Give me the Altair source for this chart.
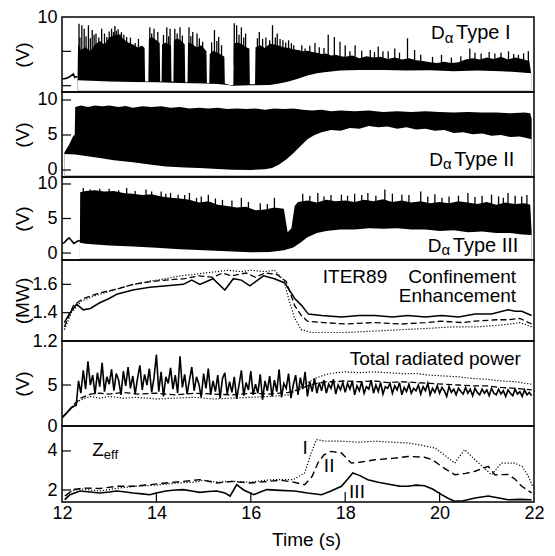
import altair as alt
import pandas as pd
import numpy as np

FONT = "Liberation Sans"
W = 472
XDOM = [12, 22]

# ---------------- Panel 1: D-alpha Type I ----------------
D1_PRE = [(12.0, 1.0), (12.05, 1.0), (12.1, 1.1), (12.15, 1.25), (12.2, 1.5), (12.24, 1.7),
          (12.27, 1.2), (12.3, 1.3), (12.33, 1.3)]
D1_HI = [(12.33, 1.3), (12.34, 6.0), (12.40, 5.2), (12.50, 5.6), (12.60, 5.0), (12.70, 6.0),
         (12.80, 6.5), (12.90, 6.0), (13.00, 7.0), (13.10, 7.3), (13.20, 7.5), (13.30, 6.8),
         (13.40, 6.3), (13.50, 6.0), (13.60, 5.6), (13.70, 5.8), (13.75, 5.5), (13.76, 0.6),
         (13.83, 0.6), (13.84, 6.8), (13.90, 7.1), (14.00, 6.6), (14.07, 6.2), (14.08, 0.6),
         (14.11, 0.6), (14.12, 6.0), (14.20, 6.3), (14.31, 5.8), (14.32, 0.6), (14.36, 0.6),
         (14.37, 6.6), (14.45, 6.9), (14.55, 6.4), (14.60, 6.0), (14.61, 0.5), (14.66, 0.5),
         (14.67, 6.3), (14.75, 6.1), (14.85, 5.6), (14.95, 5.9), (15.06, 5.0), (15.07, 0.4),
         (15.12, 0.4), (15.13, 4.6), (15.20, 5.1), (15.30, 4.8), (15.40, 4.4), (15.44, 4.2),
         (15.45, 0.3), (15.55, 0.1), (15.63, 0.1), (15.64, 6.1), (15.70, 6.3), (15.80, 6.1),
         (15.90, 5.6), (15.97, 5.4), (15.98, 0.2), (16.09, 0.2), (16.10, 5.6), (16.20, 5.9),
         (16.30, 5.5), (16.40, 6.1), (16.50, 6.0), (16.60, 5.8), (16.70, 5.6), (16.80, 5.5),
         (16.90, 5.3), (17.00, 5.2), (17.10, 5.0), (17.20, 5.1), (17.30, 4.9), (17.40, 4.8),
         (17.50, 4.6), (17.60, 4.7), (17.70, 4.4), (17.80, 4.5), (17.90, 4.3), (18.00, 4.2),
         (18.15, 4.4), (18.30, 4.0), (18.45, 4.3), (18.60, 4.1), (18.75, 4.2), (18.90, 3.9),
         (19.05, 4.1), (19.20, 3.8), (19.35, 4.0), (19.50, 3.7), (19.65, 3.6), (19.80, 3.4),
         (19.95, 3.3), (20.10, 3.5), (20.25, 3.3), (20.40, 3.4), (20.55, 3.8), (20.70, 4.0),
         (20.85, 3.8), (21.00, 4.1), (21.15, 3.9), (21.30, 4.2), (21.45, 3.8), (21.60, 4.1),
         (21.75, 3.9), (21.90, 3.6), (21.94, 1.8)]
D1_LO = [(12.33, 0.8), (12.6, 0.7), (13.0, 0.6), (13.5, 0.55), (14.0, 0.5), (14.5, 0.4),
         (15.0, 0.3), (15.3, 0.25), (15.5, 0.1), (15.62, 0.0), (16.0, 0.05), (16.4, 0.1),
         (16.6, 0.3), (16.8, 0.6), (17.0, 1.0), (17.2, 1.5), (17.4, 1.8), (17.6, 2.0),
         (17.9, 2.2), (18.3, 2.3), (18.8, 2.3), (19.3, 2.2), (19.8, 2.25), (20.3, 2.1),
         (20.8, 2.2), (21.3, 2.1), (21.6, 2.0), (21.94, 1.8)]
D1_SPIKES = [(12.36, 9.0), (12.42, 8.8), (12.47, 8.3), (12.56, 8.8), (12.64, 8.1), (12.72, 7.6),
             (12.84, 8.3), (12.95, 7.1), (13.05, 8.3), (13.12, 8.7), (13.19, 8.2), (13.26, 7.8),
             (13.37, 7.1), (13.55, 6.2), (13.86, 8.5), (13.95, 8.3), (14.03, 7.8), (14.22, 8.5),
             (14.29, 8.3), (14.39, 8.3), (14.50, 8.5), (14.69, 8.5), (14.77, 7.8), (14.86, 7.6),
             (14.98, 6.4), (15.23, 8.1), (15.32, 7.1), (15.65, 9.1), (15.70, 8.8), (15.80, 8.5),
             (15.89, 7.6), (16.18, 7.8), (16.25, 6.8), (16.46, 8.8), (16.56, 7.6), (16.68, 6.6),
             (16.80, 6.6), (16.91, 5.9), (17.01, 5.2), (17.15, 5.4), (17.36, 6.2), (17.64, 7.4),
             (17.77, 7.1), (17.89, 6.4), (18.00, 5.9), (18.21, 5.9), (18.53, 5.2), (18.70, 5.7),
             (18.91, 5.0), (19.05, 5.4), (19.32, 6.9), (19.47, 5.2), (20.04, 4.5), (20.64, 5.4),
             (20.88, 4.7), (21.17, 4.7), (21.46, 5.0), (21.67, 4.5), (21.88, 5.0),
             (12.38, 7.0), (12.51, 7.2), (12.60, 6.9), (12.68, 7.4), (12.78, 7.0), (12.90, 7.6),
             (13.00, 7.9), (13.09, 7.8), (13.15, 8.0), (13.23, 7.5), (13.31, 7.4), (13.45, 7.0),
             (13.62, 6.8), (13.90, 7.6), (14.15, 7.4), (14.26, 7.2), (14.44, 7.6), (14.55, 7.3),
             (14.73, 7.2), (14.91, 6.9), (15.17, 6.3), (15.28, 6.5), (15.38, 5.9), (15.75, 7.4),
             (15.85, 7.0), (16.14, 6.9), (16.32, 7.0), (16.40, 6.6), (16.52, 7.0), (16.62, 6.8),
             (16.74, 6.3), (16.86, 6.2), (17.08, 5.9), (17.25, 5.8), (17.45, 5.6), (17.55, 5.5),
             (18.10, 5.0), (18.35, 5.1), (18.62, 4.9), (18.80, 5.0), (19.15, 4.8), (19.60, 4.5),
             (19.85, 4.2), (20.25, 4.1), (20.45, 4.3), (20.75, 4.8), (21.05, 4.9), (21.30, 4.8),
             (21.57, 4.6), (21.78, 4.7)]

# ---------------- Panel 2: D-alpha Type II ----------------
D2_HI = [(12.05, 2.5), (12.15, 3.6), (12.24, 4.9), (12.27, 5.0), (12.28, 9.0), (12.4, 9.2),
         (12.55, 9.0), (12.7, 9.2), (12.85, 9.1), (13.0, 9.2), (13.2, 9.0), (13.35, 9.15),
         (13.5, 8.9), (13.7, 9.1), (13.9, 9.0), (14.1, 9.1), (14.3, 8.9), (14.5, 9.0),
         (14.7, 8.8), (14.9, 8.9), (15.1, 8.8), (15.3, 8.9), (15.5, 8.7), (15.7, 8.8),
         (15.9, 8.7), (16.1, 8.8), (16.3, 8.6), (16.5, 8.8), (16.7, 8.7), (16.9, 8.8),
         (17.1, 8.6), (17.3, 8.5), (17.5, 8.6), (17.7, 8.4), (17.9, 8.5), (18.2, 8.4),
         (18.5, 8.5), (18.8, 8.3), (19.1, 8.4), (19.4, 8.3), (19.7, 8.4), (20.0, 8.3),
         (20.3, 8.2), (20.6, 8.3), (20.9, 8.2), (21.2, 8.2), (21.5, 8.1), (21.8, 8.2),
         (21.92, 8.1), (21.95, 7.3)]
D2_LO = [(12.05, 2.3), (12.28, 2.2), (12.5, 2.0), (12.8, 1.7), (13.1, 1.4), (13.5, 1.1),
         (13.9, 0.75), (14.2, 0.5), (14.6, 0.35), (14.9, 0.3), (15.3, 0.15), (15.6, 0.05),
         (16.0, 0.0), (16.3, 0.1), (16.45, 0.3), (16.6, 0.8), (16.75, 1.5), (16.9, 2.4),
         (17.05, 3.4), (17.2, 4.4), (17.35, 5.0), (17.5, 5.4), (17.7, 5.7), (17.9, 5.6),
         (18.1, 6.0), (18.3, 5.9), (18.5, 6.3), (18.7, 6.1), (18.9, 6.2), (19.1, 5.9),
         (19.3, 6.1), (19.5, 5.8), (19.7, 5.9), (19.9, 5.6), (20.1, 5.7), (20.3, 5.3),
         (20.5, 5.4), (20.7, 5.1), (20.9, 5.2), (21.1, 4.9), (21.3, 5.0), (21.5, 4.7),
         (21.7, 4.8), (21.95, 4.4)]

# ---------------- Panel 3: D-alpha Type III ----------------
D3_PRE = [(12.0, 1.4), (12.05, 1.5), (12.1, 1.9), (12.15, 2.2), (12.2, 1.8), (12.25, 1.4),
          (12.3, 1.6), (12.35, 1.8), (12.38, 1.7)]
D3_HI = [(12.38, 1.7), (12.385, 8.8), (12.5, 9.0), (12.7, 9.1), (12.9, 8.9), (13.1, 9.0),
         (13.3, 8.7), (13.5, 8.6), (13.7, 8.4), (13.9, 8.5), (14.1, 8.2), (14.3, 8.0),
         (14.5, 7.9), (14.7, 7.7), (14.9, 7.3), (15.1, 7.5), (15.3, 7.0), (15.5, 6.8),
         (15.7, 6.6), (15.9, 6.7), (16.1, 6.2), (16.3, 6.3), (16.5, 6.6), (16.7, 6.4),
         (16.78, 3.0), (16.86, 3.6), (16.93, 6.8), (17.0, 7.4), (17.2, 7.6), (17.4, 7.3),
         (17.6, 7.7), (17.8, 7.5), (18.0, 7.6), (18.2, 7.4), (18.4, 7.7), (18.6, 7.5),
         (18.8, 7.8), (19.0, 7.4), (19.2, 7.6), (19.4, 7.3), (19.6, 7.5), (19.8, 7.2),
         (20.0, 7.4), (20.2, 7.2), (20.4, 7.5), (20.6, 7.3), (20.8, 7.1), (21.0, 7.4),
         (21.2, 7.0), (21.4, 7.3), (21.6, 7.1), (21.8, 7.2), (21.92, 7.0), (21.95, 3.0)]
D3_LO = [(12.38, 1.5), (12.5, 1.35), (13.0, 1.1), (13.5, 0.95), (14.0, 0.75), (14.5, 0.55),
         (15.0, 0.4), (15.5, 0.25), (16.0, 0.1), (16.4, 0.15), (16.7, 0.4), (16.9, 0.8),
         (17.05, 1.5), (17.2, 2.3), (17.4, 2.9), (17.6, 3.2), (17.9, 3.4), (18.2, 3.4),
         (18.5, 3.6), (18.8, 3.5), (19.1, 3.6), (19.4, 3.4), (19.7, 3.4), (20.0, 3.2),
         (20.3, 3.3), (20.6, 3.0), (20.9, 3.1), (21.2, 2.9), (21.5, 2.9), (21.75, 2.7),
         (21.95, 2.6)]
D3_SPIKES = [(12.45, 9.4), (12.8, 9.3), (13.37, 9.4), (13.55, 9.0), (13.78, 9.2), (14.1, 8.9),
             (14.3, 8.7), (14.46, 8.45), (14.7, 8.7), (14.95, 8.2), (15.1, 8.45), (15.4, 7.7),
             (15.6, 7.6), (15.8, 8.0), (16.2, 7.2), (16.5, 8.0), (17.1, 8.6), (17.42, 8.7),
             (17.7, 8.4), (17.92, 8.45), (18.2, 8.6), (18.48, 8.7), (18.84, 9.2), (19.0, 8.6),
             (19.2, 8.45), (19.6, 8.9), (19.9, 8.5), (20.2, 8.2), (20.6, 8.7), (20.9, 8.3),
             (21.1, 8.45), (21.45, 8.7), (21.6, 8.3), (21.74, 8.2), (21.85, 8.4),
             (12.6, 9.2), (13.0, 9.3), (13.2, 9.1), (13.9, 8.9), (14.2, 8.6), (14.6, 8.4),
             (14.85, 8.0), (15.25, 7.9), (15.95, 7.4), (16.35, 7.1), (17.25, 8.3), (17.55, 8.2),
             (18.05, 8.3), (18.35, 8.4), (18.65, 8.3), (19.35, 8.4), (19.75, 8.2), (20.05, 8.0),
             (20.4, 8.3), (20.75, 8.1), (21.25, 8.2), (21.35, 8.0)]

# ---------------- Panel 4: ITER89 confinement enhancement ----------------
IT_SOLID_T = [12.05, 12.17, 12.31, 12.45, 12.6, 12.8, 13.0, 13.16, 13.5, 13.86, 14.22, 14.57,
              14.75, 14.92, 15.2, 15.45, 15.63, 15.8, 15.98, 16.27, 16.5, 16.72, 16.93, 17.08,
              17.22, 17.5, 17.92, 18.3, 18.63, 19.0, 19.33, 19.7, 20.04, 20.4, 20.75, 21.1,
              21.45, 21.6, 21.74, 21.95]
IT_SOLID_V = [1.33, 1.40, 1.46, 1.42, 1.43, 1.47, 1.50, 1.53, 1.56, 1.58, 1.59, 1.60,
              1.63, 1.60, 1.64, 1.56, 1.64, 1.63, 1.59, 1.66, 1.64, 1.61, 1.50, 1.45,
              1.39, 1.38, 1.37, 1.38, 1.38, 1.37, 1.38, 1.37, 1.38, 1.37, 1.39, 1.39,
              1.42, 1.41, 1.41, 1.38]
IT_DASH_T = [12.05, 12.24, 12.45, 12.8, 13.2, 13.5, 13.9, 14.2, 14.6, 14.9, 15.2, 15.4, 15.6,
             15.9, 16.1, 16.3, 16.55, 16.75, 16.93, 17.07, 17.2, 17.55, 18.0, 18.6, 19.2, 19.7,
             20.04, 20.5, 20.75, 21.2, 21.45, 21.7, 21.95]
IT_DASH_V = [1.30, 1.45, 1.50, 1.54, 1.57, 1.60, 1.62, 1.63, 1.64, 1.66, 1.65, 1.68, 1.66,
             1.68, 1.65, 1.68, 1.67, 1.62, 1.45, 1.38, 1.34, 1.33, 1.32, 1.33, 1.32, 1.33,
             1.34, 1.33, 1.34, 1.35, 1.35, 1.36, 1.32]
IT_DOT_T = [12.05, 12.2, 12.4, 12.7, 13.0, 13.4, 13.8, 14.2, 14.5, 14.8, 15.0, 15.3, 15.5, 15.8,
            16.0, 16.3, 16.5, 16.7, 16.8, 16.93, 17.07, 17.28, 17.6, 18.0, 18.6, 19.2, 19.8,
            20.3, 20.8, 21.2, 21.5, 21.7, 21.95]
IT_DOT_V = [1.28, 1.40, 1.48, 1.52, 1.55, 1.59, 1.62, 1.64, 1.66, 1.67, 1.68, 1.69, 1.70, 1.69,
            1.70, 1.69, 1.70, 1.63, 1.50, 1.36, 1.28, 1.26, 1.26, 1.26, 1.27, 1.28, 1.29,
            1.30, 1.30, 1.31, 1.32, 1.33, 1.30]

# ---------------- Panel 5: total radiated power ----------------
RAD_T0, RAD_DT = 12.0, 0.05
RAD_SOLID = [1.0, 1.3, 1.6, 1.9, 2.2, 2.4, 2.5, 5.5, 4.0, 6.8,
             4.5, 7.9, 5.0, 6.2, 3.9, 6.5, 4.8, 7.7, 4.2, 6.0,
             5.1, 6.9, 4.3, 6.4, 5.6, 3.8, 6.7, 4.9, 7.2, 4.6,
             6.1, 3.9, 5.8, 7.4, 4.4, 6.3, 5.0, 7.0, 4.1, 5.9,
             8.7, 4.2, 6.6, 3.6, 6.0, 5.2, 7.1, 4.5, 6.2, 4.0,
             8.5, 4.7, 6.3, 3.9, 5.6, 7.2, 4.3, 6.0, 5.1, 3.5,
             6.4, 4.6, 7.0, 3.8, 5.5, 4.2, 6.2, 3.4, 5.8, 6.5,
             3.9, 5.4, 4.1, 6.0, 3.3, 5.0, 6.8, 3.7, 5.3, 4.4,
             6.7, 3.8, 5.1, 4.0, 6.3, 3.2, 5.5, 4.3, 6.1, 3.6,
             5.6, 4.2, 6.9, 3.5, 5.2, 4.6, 6.4, 3.4, 5.0, 6.2,
             3.8, 5.9, 4.5, 6.6, 3.6, 5.4, 4.2, 5.8, 4.0, 5.3,
             4.3, 5.6, 4.0, 5.1, 4.6, 5.7, 3.9, 5.0, 4.4, 5.3,
             4.1, 5.2, 4.5, 5.5, 3.8, 4.9, 4.3, 5.4, 4.0, 4.8,
             4.5, 5.6, 4.0, 5.0, 4.2, 5.3, 3.9, 4.8, 4.6, 5.2,
             4.0, 4.9, 4.4, 5.3, 3.8, 4.7, 4.2, 5.1, 4.0, 4.6,
             4.3, 5.0, 3.9, 4.8, 4.3, 5.2, 3.8, 4.6, 4.1, 4.9,
             4.0, 4.7, 4.3, 3.6, 4.8, 4.1, 4.5, 3.8, 4.6, 4.2,
             3.9, 4.7, 4.0, 4.5, 3.7, 4.6, 4.1, 3.8, 4.5, 4.0,
             4.4, 3.7, 4.6, 4.0, 3.8, 4.5, 3.9, 4.3, 3.6, 4.4,
             4.0, 3.7, 4.5, 3.9, 4.2, 3.6, 4.4, 3.8, 4.1, 3.7]
RAD_T = [12.0, 12.1, 12.2, 12.3, 12.4, 12.6, 12.8, 13.0, 13.3, 13.6, 14.0, 14.4, 14.8, 15.2,
         15.6, 16.0, 16.4, 16.8, 17.0, 17.2, 17.4, 17.6, 17.8, 18.0, 18.3, 18.6, 18.9, 19.2,
         19.5, 19.8, 20.1, 20.4, 20.7, 21.0, 21.3, 21.6, 21.95]
RAD_DOT = [1.0, 1.6, 2.3, 2.8, 3.2, 3.6, 3.4, 3.6, 3.4, 3.5, 3.3, 3.4, 3.5, 3.3, 3.4, 3.5, 3.6,
           3.8, 4.5, 5.3, 5.9, 6.3, 6.5, 6.6, 6.5, 6.6, 6.5, 6.4, 6.4, 6.2, 6.1, 6.0, 5.8, 5.7,
           5.5, 5.4, 5.1]
RAD_DASH = [1.0, 1.6, 2.3, 2.9, 3.4, 3.9, 4.0, 3.9, 4.1, 3.9, 4.0, 3.8, 4.0, 3.9, 3.8, 4.0,
            3.9, 4.1, 4.4, 4.9, 5.2, 5.4, 5.4, 5.5, 5.4, 5.5, 5.3, 5.4, 5.3, 5.2, 5.1, 5.0,
            4.9, 4.9, 4.7, 4.6, 4.4]

# ---------------- Panel 6: Zeff ----------------
Z3_T = [12.06, 12.17, 12.38, 12.6, 12.8, 13.0, 13.16, 13.35, 13.5, 13.7, 13.86, 14.0, 14.2,
        14.4, 14.57, 14.75, 14.92, 15.1, 15.28, 15.45, 15.56, 15.7, 15.85, 16.06, 16.2, 16.34,
        16.62, 16.93, 17.2, 17.5, 17.7, 17.92, 18.05, 18.16, 18.3, 18.48, 18.7, 18.98, 19.15,
        19.33, 19.5, 19.68, 19.85, 20.04, 20.2, 20.32, 20.5, 20.75, 21.03, 21.2, 21.45, 21.7,
        21.95]
Z3_V = [1.50, 1.76, 1.95, 1.90, 1.85, 1.90, 1.95, 1.90, 1.85, 1.80, 1.76, 1.85, 1.95, 2.0,
        2.02, 1.95, 1.88, 1.92, 1.95, 1.85, 1.69, 2.27, 2.0, 1.76, 1.90, 2.02, 1.98, 1.95,
        1.85, 1.76, 1.95, 2.19, 2.55, 2.87, 2.75, 2.53, 2.40, 2.27, 2.20, 2.19, 2.25, 2.22,
        2.05, 1.76, 1.55, 1.42, 1.45, 1.59, 1.69, 1.62, 1.50, 1.52, 1.50]
Z2_T = [12.06, 12.24, 12.45, 12.8, 13.16, 13.5, 13.86, 14.2, 14.57, 14.92, 15.1, 15.28, 15.63,
        15.98, 16.34, 16.62, 16.87, 17.14, 17.3, 17.42, 17.55, 17.7, 17.92, 18.13, 18.3, 18.63,
        19.0, 19.33, 19.68, 19.85, 20.04, 20.32, 20.55, 20.75, 21.03, 21.17, 21.45, 21.6,
        21.74, 21.95]
Z2_V = [1.69, 2.02, 2.10, 2.08, 2.19, 2.19, 2.27, 2.36, 2.44, 2.53, 2.45, 2.36, 2.44, 2.36,
        2.44, 2.50, 2.42, 2.27, 2.7, 3.38, 3.8, 3.98, 3.9, 3.38, 3.42, 3.55, 3.62, 3.72, 3.68,
        3.55, 3.21, 2.78, 2.85, 2.96, 3.21, 2.78, 2.80, 2.55, 2.19, 1.85]
Z1_T = [12.06, 12.2, 12.4, 12.8, 13.2, 13.6, 14.0, 14.4, 14.8, 15.0, 15.3, 15.6, 16.0, 16.3,
        16.51, 16.9, 17.14, 17.28, 17.39, 17.6, 17.92, 18.3, 18.63, 19.0, 19.33, 19.6, 19.9,
        20.1, 20.32, 20.53, 20.75, 21.1, 21.31, 21.6, 21.75, 21.88, 21.97]
Z1_V = [1.55, 1.95, 2.05, 1.95, 2.10, 2.20, 2.25, 2.35, 2.40, 2.50, 2.40, 2.45, 2.40, 2.50,
        2.53, 2.53, 2.87, 3.9, 4.58, 4.5, 4.5, 4.45, 4.5, 4.45, 4.41, 4.3, 4.15, 3.8, 3.38,
        4.07, 3.55, 2.78, 3.38, 3.38, 3.2, 2.7, 2.2]

X_TICKS = [12, 14, 16, 18, 20, 22]

# =====================================================================
XS = alt.Scale(domain=XDOM, nice=False, zero=False)


def pairs_df(pairs, base=None):
    df = pd.DataFrame(pairs, columns=["t", "v"])
    if base is not None:
        df["b"] = base
    return df


def xy_df(ts, vs):
    return pd.DataFrame({"t": ts, "v": vs})


def yaxis(values, title, h, fmt=None):
    kw = dict(values=values, title=title, ticks=False, tickSize=0, domain=False, grid=False,
              labelFont=FONT, labelFontSize=18, labelColor="black", labelPadding=5,
              labelOverlap=False, labelFlush=False,
              titleFont=FONT, titleFontSize=19, titleFontWeight="normal", titleColor="black",
              titleX=-40, titleY=h / 2, titleAngle=270, titleAlign="center",
              titleBaseline="middle")
    if fmt:
        kw["format"] = fmt
    return alt.Axis(**kw)


class P:
    def __init__(self, ydom, h, yvals, title, fmt=None, xaxis=None):
        self.ys = alt.Scale(domain=ydom, nice=False, zero=False)
        self.ya = yaxis(yvals, title, h, fmt)
        self.xa = xaxis
        self.h = h
        self.ydom = ydom
        self.layers = []

    def X(self):
        return alt.X("t:Q", scale=XS, axis=self.xa)

    def Y(self):
        return alt.Y("v:Q", scale=self.ys, axis=self.ya)

    def area(self, df, color):
        self.layers.append(alt.Chart(df).mark_area(color=color, clip=True, strokeWidth=0)
                           .encode(x=self.X(), y=self.Y(), y2="b:Q"))

    def rules(self, df, width=1.0):
        self.layers.append(alt.Chart(df).mark_rule(color="black", strokeWidth=width, clip=True)
                           .encode(x=self.X(), y=self.Y(), y2="b:Q"))

    def line(self, df, width=1.4, dash=None):
        kw = dict(color="black", strokeWidth=width, clip=True)
        if dash:
            kw["strokeDash"] = dash
        self.layers.append(alt.Chart(df).mark_line(**kw).encode(x=self.X(), y=self.Y()))

    def yticks(self, vals):
        self.layers.append(alt.Chart(pd.DataFrame({"v": vals})).mark_rule(
            color="black", strokeWidth=1.2).encode(x=alt.value(0), x2=alt.value(9), y=self.Y()))

    def text(self, t, v, s, size=19, align="left"):
        self.layers.append(alt.Chart(pd.DataFrame({"t": [t], "v": [v]})).mark_text(
            text=s, font=FONT, fontSize=size, align=align, baseline="middle", color="black")
            .encode(x=self.X(), y=self.Y()))

    def chart(self):
        return alt.layer(*self.layers).properties(width=W, height=self.h)


def dalpha(p, hi, lo, spikes, base, pre):
    bottom = p.ydom[0] + 0.2
    p.area(pairs_df(hi, bottom), "black")
    p.area(pairs_df(lo, bottom), "white")
    if spikes:
        p.rules(pairs_df(spikes, base), 1.3)
    if pre:
        p.line(pairs_df(pre), 1.6)


# Panel 1
p1 = P([-0.92, 10], 75, [10], "(V)")
dalpha(p1, D1_HI, D1_LO, D1_SPIKES, 3.0, D1_PRE)
p1.yticks([5, 0])
p1.text(19.82, 7.6, "D")
p1.text(20.11, 6.95, "α", 15)
p1.text(20.35, 7.6, "Type I", 20)

# Panel 2
p2 = P([-1.0, 11.14], 85, [10, 5, 0], "(V)")
dalpha(p2, D2_HI, D2_LO, [], 5.0, None)
p2.yticks([10, 5, 0])
p2.text(19.78, 1.43, "D")
p2.text(20.07, 0.8, "α", 15)
p2.text(20.31, 1.43, "Type II", 20)

# Panel 3
p3 = P([-1.01, 11.01], 83, [10, 5, 0], "(V)")
dalpha(p3, D3_HI, D3_LO, D3_SPIKES, 5.0, D3_PRE)
p3.yticks([10, 5, 0])
p3.text(19.75, 1.01, "D")
p3.text(20.04, 0.38, "α", 15)
p3.text(20.28, 1.01, "Type III", 20)

# Panel 4
p4 = P([1.2, 1.772], 81, [1.6, 1.4, 1.2], "(MW)", ".1f")
p4.line(xy_df(IT_DOT_T, IT_DOT_V), 1.2, [1.2, 1.8])
p4.line(xy_df(IT_DASH_T, IT_DASH_V), 1.3, [6, 3])
p4.line(xy_df(IT_SOLID_T, IT_SOLID_V), 1.5)
p4.yticks([1.6, 1.4])
p4.text(21.62, 1.655, "ITER89\u00a0\u00a0\u00a0\u00a0Confinement", 19, align="right")
p4.text(21.62, 1.515, "Enhancement", 19, align="right")

# Panel 5
p5 = P([0, 10.37], 85, [5, 0], "(V)")
rad_t = [round(RAD_T0 + RAD_DT * i, 2) for i in range(len(RAD_SOLID))]
p5.line(xy_df(RAD_T, RAD_DOT), 1.2, [1.2, 1.8])
p5.line(xy_df(RAD_T, RAD_DASH), 1.3, [6, 3])
p5.line(xy_df(rad_t, RAD_SOLID), 1.6)
p5.yticks([5])
p5.text(21.72, 8.17, "Total radiated power", align="right")

# Panel 6
xaxis6 = alt.Axis(values=X_TICKS, title="Time (s)", ticks=False, tickSize=0, domain=False,
                  grid=False, labelFont=FONT, labelFontSize=18, labelColor="black",
                  labelPadding=2, labelFlush=False, labelOverlap=False,
                  titleFont=FONT, titleFontSize=19, titleFontWeight="normal",
                  titleColor="black", titleX=244, titleY=43, titleAlign="center",
                  titleBaseline="alphabetic")
p6 = P([1.385, 5.28], 76, [4, 2], "", xaxis=xaxis6)
p6.line(xy_df(Z1_T, Z1_V), 1.2, [1.2, 1.8])
p6.line(xy_df(Z2_T, Z2_V), 1.4, [7, 4])
p6.line(xy_df(Z3_T, Z3_V), 1.6)
p6.yticks([4, 2])
p6.layers.append(alt.Chart(pd.DataFrame({"t": X_TICKS[1:-1]})).mark_rule(
    color="black", strokeWidth=1.2).encode(x=p6.X(), y=alt.value(76), y2=alt.value(66)))
p6.text(12.64, 4.05, "Z")
p6.text(12.885, 3.78, "eff", 13)
p6.text(17.15, 4.15, "I", align="center")
p6.text(17.66, 3.23, "II", align="center")
p6.text(18.25, 1.90, "III", align="center")

chart = alt.vconcat(p1.chart(), p2.chart(), p3.chart(), p4.chart(), p5.chart(), p6.chart(),
                    spacing=0, bounds="flush").resolve_scale(
    x="independent", y="independent").configure_view(
    stroke="black", strokeWidth=1.5).properties(
    padding={"left": 4, "top": -1, "right": 0, "bottom": 0})

chart.save("out.html", embed_options={"renderer": "svg", "actions": False})
